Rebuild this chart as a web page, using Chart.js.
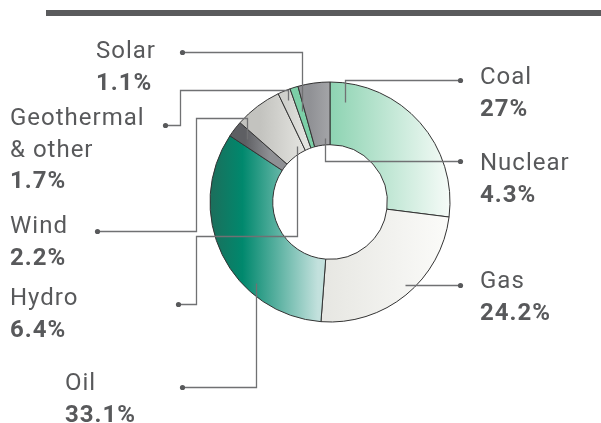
<!DOCTYPE html>
<html>
<head>
<meta charset="utf-8">
<script src="https://cdn.jsdelivr.net/npm/chart.js@4"></script>
<style>
    body { margin: 0; background: #ffffff; }
    #wrap { width: 601px; height: 423px; }
</style>
</head>
<body>
<div id="wrap"><canvas id="myChart" width="601" height="423"></canvas></div>
<script>
// Data
const categories = ["Coal", "Gas", "Oil", "Wind", "Hydro", "Geothermal\n& other", "Solar", "Nuclear"];
const shares = [27, 24.2, 33.1, 2.2, 6.4, 1.7, 1.1, 4.3];

// Colour stops per slice: [from offset, to offset (px from centre x), stops]
const sliceFills = [
    { x0: 0, x1: 120, stops: [[0, "#8dd3b2"], [1, "#f6fbf8"]] },
    { x0: -35, x1: 118, stops: [[0, "#e2e2dd"], [1, "#fbfbf9"]] },
    { x0: -120, x1: -12, stops: [[0, "#1c6e5b"], [0.3, "#00886d"], [1, "#c3e1dd"]] },
    { x0: -85, x1: -60, stops: [[0, "#5e5f63"], [1, "#8f9094"]] },
    { x0: -70, x1: -15, stops: [[0, "#c3c3bf"], [1, "#ecece8"]] },
    { x0: -45, x1: -25, stops: [[0, "#cfd0cc"], [1, "#e3e3df"]] },
    { x0: 0, x1: 1, stops: [[0, "#7ccfa7"], [1, "#7ccfa7"]] },
    { x0: -20, x1: 0, stops: [[0, "#909195"], [1, "#a4a5a8"]] },
];

// Label layout: dot position, text position, elbow route to the slice
const labelLayout = [
    { dot: [460, 80], text: [480, 84], via: [], at: 0.09, rf: 0.7 },
    { dot: [460, 285], text: [480, 288], via: [], at: 0.47, rf: 0.87 },
    { dot: [182, 387], text: [65, 390], via: [], at: 0.32, rf: 0.83 },
    { dot: [97, 231], text: [10, 233], via: [[196, 231], [196, 118]], at: 0.5, rf: 0.75 },
    { dot: [178, 304], text: [10, 305], via: [[196, 304], [196, 236]], at: 0.8, rf: 0.12 },
    { dot: [165, 125], text: [10, 125], via: [[180, 125], [180, 90]], at: 0.5, rf: 0.85 },
    { dot: [182, 52], text: [96, 58], via: [], at: 0.5, rf: 0.6 },
    { dot: [460, 161], text: [480, 170], via: [], at: 0.71, rf: 0.11 },
];

const ink = "#58595b";

function sliceGradient(context) {
    const chart = context.chart;
    const area = chart.chartArea;
    if (!area) {
        return "#cccccc";
    }
    const cx = (area.left + area.right) / 2;
    const f = sliceFills[context.dataIndex];
    const g = chart.ctx.createLinearGradient(cx + f.x0, 0, cx + f.x1, 0);
    f.stops.forEach((s) => g.addColorStop(s[0], s[1]));
    return g;
}

const labelsPlugin = {
    id: "leaderLabels",
    beforeDraw(chart) {
        const c = chart.ctx;
        c.save();
        c.fillStyle = "#5a5b5d";
        c.fillRect(46, 10, 555, 6);
        c.restore();
    },
    afterDraw(chart) {
        const c = chart.ctx;
        const arcs = chart.getDatasetMeta(0).data;
        c.save();
        c.strokeStyle = "#707173";
        c.lineWidth = 1.3;
        c.fillStyle = ink;
        labelLayout.forEach((lay, i) => {
            const arc = arcs[i];
            const ang = arc.startAngle + lay.at * (arc.endAngle - arc.startAngle);
            const r = arc.innerRadius + lay.rf * (arc.outerRadius - arc.innerRadius);
            const tx = arc.x + r * Math.cos(ang);
            const ty = arc.y + r * Math.sin(ang);
            const pts = [lay.dot, ...lay.via];
            const last = pts[pts.length - 1];
            pts.push([tx, last[1]], [tx, ty]);
            c.beginPath();
            c.moveTo(Math.round(pts[0][0]) + 0.5, Math.round(pts[0][1]) + 0.5);
            for (let k = 1; k < pts.length; k++) {
                c.lineTo(Math.round(pts[k][0]) + 0.5, Math.round(pts[k][1]) + 0.5);
            }
            c.stroke();
            c.beginPath();
            c.arc(lay.dot[0] + 0.5, lay.dot[1] + 0.5, 2.6, 0, Math.PI * 2);
            c.fill();

            // texts
            const lines = categories[i].split("\n");
            c.letterSpacing = "1px";
            c.textBaseline = "alphabetic";
            c.font = "24px Roboto";
            lines.forEach((ln, k) => {
                c.fillText(ln, lay.text[0], lay.text[1] + k * 32);
            });
            c.font = "bold 24px Roboto";
            c.fillText(shares[i] + "%", lay.text[0], lay.text[1] + lines.length * 31.5);
        });
        c.restore();
    },
};

const ctx = document.getElementById("myChart").getContext("2d");
const chart = new Chart(ctx, {
    type: "doughnut",
    data: {
        labels: categories,
        datasets: [
            {
                data: shares,
                backgroundColor: sliceGradient,
                borderColor: "#333333",
                borderWidth: 1,
                hoverOffset: 0,
            },
        ],
    },
    options: {
        responsive: false,
        animation: false,
        radius: 120,
        cutout: 58,
        layout: {
            padding: { left: 159, right: 100, top: 80, bottom: 99 },
        },
        plugins: {
            legend: { display: false },
            tooltip: { enabled: false },
        },
    },
    plugins: [labelsPlugin],
});
</script>
</body>
</html>
